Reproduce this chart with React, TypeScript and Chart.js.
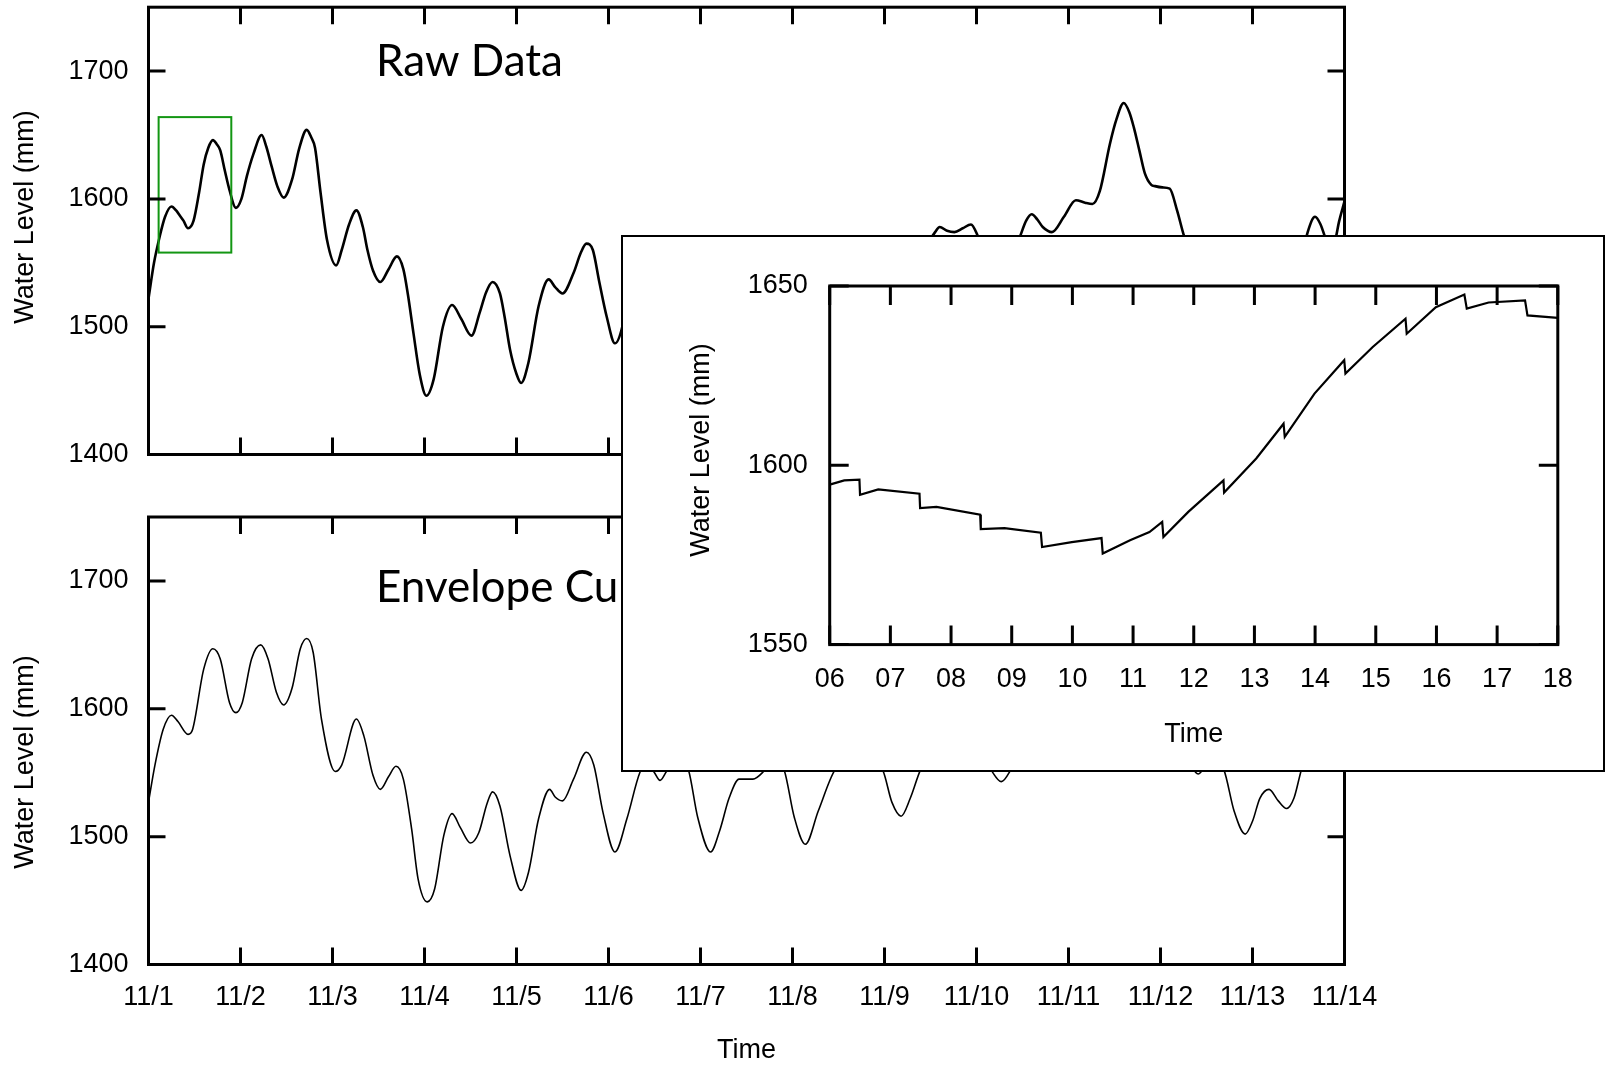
import React, { useEffect, useRef } from 'react';
import { Chart, registerables } from 'chart.js';

Chart.register(...registerables);

// ---------------- data ----------------
const xTickLabels = ['11/1', '11/2', '11/3', '11/4', '11/5', '11/6', '11/7', '11/8', '11/9', '11/10', '11/11', '11/12', '11/13', '11/14'];
const insetTickLabels = ['06', '07', '08', '09', '10', '11', '12', '13', '14', '15', '16', '17', '18'];

const rawDays = [
  0.00, 0.06, 0.12, 0.18, 0.25, 0.30, 0.34, 0.38, 0.43, 0.49, 0.55, 0.60, 0.65, 0.70, 0.74, 0.78, 0.83, 0.88, 0.95,
  1.01, 1.07, 1.14, 1.23, 1.28, 1.34, 1.40, 1.47, 1.56, 1.64, 1.72, 1.77, 1.81, 1.87, 1.94,
  2.04, 2.10, 2.18, 2.26, 2.33, 2.38, 2.44, 2.52, 2.61, 2.70, 2.77, 2.82, 2.88, 2.95,
  3.02, 3.10, 3.20, 3.30, 3.40, 3.51, 3.60, 3.67, 3.74, 3.82, 3.87, 3.93,
  4.00, 4.05, 4.13, 4.24, 4.35, 4.42, 4.50, 4.62, 4.70, 4.76, 4.83, 4.90, 4.98,
  5.07, 5.15, 5.22, 5.30, 5.40, 5.48, 5.56, 5.64, 5.72, 5.80, 5.87, 5.95,
  6.03, 6.11, 6.20, 6.31, 6.42, 6.50, 6.57, 6.64, 6.72, 6.80, 6.88, 6.95,
  7.05, 7.14, 7.22, 7.32, 7.46, 7.58, 7.70, 7.82, 7.90, 7.98,
  8.08, 8.18, 8.28, 8.39, 8.48, 8.55, 8.60, 8.68, 8.76, 8.85, 8.94,
  9.02, 9.10, 9.16, 9.27, 9.37, 9.47, 9.54, 9.60, 9.66, 9.72, 9.82, 9.95,
  10.08, 10.18, 10.26, 10.34, 10.45, 10.52, 10.60, 10.66, 10.71, 10.77, 10.83, 10.90, 10.94,
  11.02, 11.10, 11.18, 11.26, 11.34, 11.41, 11.50, 11.58, 11.65, 11.69, 11.78, 11.86, 11.92,
  12.00, 12.08, 12.18, 12.28, 12.37, 12.45, 12.53, 12.60, 12.68, 12.74, 12.79, 12.85, 12.90, 12.94, 13.00,
];
const rawLevels = [
  1522, 1550, 1570, 1586, 1594, 1591, 1587, 1583, 1577, 1583, 1605, 1627, 1640, 1646, 1643, 1638, 1622, 1607, 1593,
  1600, 1618, 1635, 1650, 1641, 1625, 1610, 1601, 1615, 1640, 1654, 1648, 1640, 1605, 1568,
  1548, 1560, 1580, 1591, 1578, 1560, 1544, 1535, 1545, 1555, 1545, 1525, 1495, 1462,
  1446, 1459, 1500, 1517, 1506, 1493, 1511, 1527, 1535, 1526, 1508, 1482,
  1463, 1456, 1472, 1516, 1537, 1531, 1526, 1542, 1558, 1565, 1560, 1535, 1508,
  1487, 1500, 1530, 1552, 1560, 1553, 1545, 1553, 1562, 1560, 1550, 1520,
  1495, 1488, 1500, 1530, 1545, 1546, 1545, 1549, 1556, 1562, 1555, 1535,
  1505, 1494, 1505, 1530, 1552, 1562, 1565, 1562, 1560, 1552,
  1528, 1516, 1530, 1552, 1566, 1574, 1578, 1575, 1574, 1577, 1580,
  1570, 1556, 1550, 1543, 1552, 1570, 1583, 1588, 1584, 1578, 1574, 1586,
  1599, 1597, 1596, 1606, 1643, 1662, 1675, 1668, 1656, 1638, 1620, 1611, 1610,
  1609, 1608, 1591, 1570, 1556, 1550, 1558, 1562, 1557, 1552, 1525, 1506, 1502,
  1512, 1530, 1537, 1528, 1522, 1530, 1552, 1574, 1586, 1580, 1570, 1562, 1568, 1582, 1598,
];

const envDays = [
  0.00, 0.07, 0.16, 0.25, 0.32, 0.43, 0.48, 0.60, 0.70, 0.78, 0.88, 0.95,
  1.02, 1.12, 1.22, 1.30, 1.39, 1.47, 1.56, 1.65, 1.72, 1.79, 1.88,
  2.03, 2.10, 2.26, 2.34, 2.44, 2.52, 2.61, 2.69, 2.77, 2.86, 2.93,
  3.03, 3.11, 3.21, 3.30, 3.39, 3.50, 3.59, 3.68, 3.74, 3.82, 3.93,
  4.05, 4.13, 4.24, 4.36, 4.42, 4.50, 4.62, 4.76, 4.84, 4.94,
  5.07, 5.20, 5.34, 5.42, 5.50, 5.56, 5.63, 5.72, 5.80, 5.87, 5.97,
  6.11, 6.21, 6.31, 6.42, 6.57, 6.70, 6.80, 6.91,
  7.02, 7.14, 7.28, 7.46, 7.70, 7.98,
  8.08, 8.18, 8.28, 8.39, 8.60, 8.76, 8.94,
  9.05, 9.16, 9.27, 9.37, 9.60, 9.82,
  10.08, 10.26, 10.60, 10.83,
  11.10, 11.26, 11.34, 11.41, 11.55, 11.69, 11.80, 11.92,
  12.00, 12.08, 12.18, 12.28, 12.37, 12.45, 12.53, 12.68, 12.85, 13.00,
];
const envLevels = [
  1527, 1556, 1584, 1595, 1590, 1580, 1584, 1631, 1647, 1639, 1605, 1597,
  1605, 1639, 1650, 1639, 1613, 1603, 1616, 1647, 1655, 1644, 1592,
  1551, 1556, 1592, 1579, 1548, 1537, 1547, 1555, 1545, 1506, 1467,
  1449, 1459, 1501, 1518, 1507, 1495, 1503, 1526, 1535, 1524, 1485,
  1458, 1472, 1514, 1537, 1531, 1528, 1545, 1566, 1556, 1519,
  1488, 1514, 1550, 1558, 1550, 1544, 1551, 1560, 1558, 1552, 1515,
  1488, 1505, 1530, 1545, 1545, 1552, 1560, 1552,
  1515, 1494, 1520, 1552, 1564, 1552,
  1527, 1516, 1530, 1552, 1577, 1574, 1579,
  1566, 1552, 1543, 1552, 1588, 1574,
  1599, 1596, 1674, 1620,
  1608, 1570, 1555, 1549, 1561, 1552, 1520, 1502,
  1512, 1530, 1537, 1528, 1522, 1530, 1552, 1585, 1563, 1598,
];

const insetHours = [
  6.00, 6.24, 6.49, 6.50, 6.80, 7.48, 7.49, 7.76, 8.48, 8.49, 8.88, 9.48, 9.50, 9.99, 10.48, 10.50,
  10.95, 11.27, 11.48, 11.50, 11.91, 12.49, 12.50, 13.03, 13.48, 13.50, 13.99, 14.48, 14.50,
  14.95, 15.49, 15.51, 15.99, 16.46, 16.50, 16.86, 17.46, 17.50, 18.00,
];
const insetLevels = [
  1594.6, 1595.8, 1596.0, 1591.8, 1593.3, 1592.1, 1588.1, 1588.4, 1586.2, 1582.2, 1582.5, 1581.2, 1577.2, 1578.6, 1579.7, 1575.4,
  1579.1, 1581.4, 1584.2, 1580.0, 1587.0, 1595.8, 1592.4, 1601.9, 1611.6, 1607.9, 1620.0, 1629.3, 1625.6,
  1633.0, 1640.9, 1636.7, 1644.1, 1647.6, 1643.7, 1645.4, 1646.0, 1641.8, 1641.1,
];

const zoomBoxDays = [0.11, 0.9];
const zoomBoxLevels = [1558, 1664];

// ---------------- helpers ----------------
const FONT_FAMILY = '"Liberation Sans", Arial, sans-serif';
const TICK_FONT = { family: FONT_FAMILY, size: 27 };

const framePlugin: any = {
  id: 'frame',
  beforeDraw(chart: any, _a: any, opts: any) {
    if (opts.panel) {
      const { ctx, width, height } = chart;
      ctx.save();
      ctx.fillStyle = '#fff';
      ctx.fillRect(0, 0, width, height);
      ctx.lineWidth = opts.panel;
      ctx.strokeStyle = '#000';
      ctx.strokeRect(opts.panel / 2, opts.panel / 2, width - opts.panel, height - opts.panel);
      ctx.restore();
    }
  },
  afterDatasetsDraw(chart: any, _a: any, opts: any) {
    if (opts.box) {
      const { ctx, scales } = chart;
      const x0 = scales.x.getPixelForValue(opts.box.x0);
      const x1 = scales.x.getPixelForValue(opts.box.x1);
      const y0 = scales.y.getPixelForValue(opts.box.y0);
      const y1 = scales.y.getPixelForValue(opts.box.y1);
      ctx.save();
      ctx.strokeStyle = opts.box.color;
      ctx.lineWidth = 2;
      ctx.strokeRect(x0, y1, x1 - x0, y0 - y1);
      ctx.restore();
    }
  },
  afterDraw(chart: any, _a: any, opts: any) {
    const { ctx, chartArea: a, scales } = chart;
    const len = opts.tickLen;
    ctx.save();
    ctx.strokeStyle = '#000';
    ctx.lineWidth = opts.lineWidth;
    ctx.lineCap = 'butt';
    ctx.beginPath();
    scales.x.ticks.forEach((t: any) => {
      const px = scales.x.getPixelForValue(t.value);
      ctx.moveTo(px, a.top);
      ctx.lineTo(px, a.top + len);
      ctx.moveTo(px, a.bottom);
      ctx.lineTo(px, a.bottom - len);
    });
    scales.y.ticks.forEach((t: any) => {
      const py = scales.y.getPixelForValue(t.value);
      ctx.moveTo(a.left, py);
      ctx.lineTo(a.left + len, py);
      ctx.moveTo(a.right, py);
      ctx.lineTo(a.right - len, py);
    });
    ctx.stroke();
    ctx.lineJoin = 'miter';
    ctx.strokeRect(a.left, a.top, a.right - a.left, a.bottom - a.top);
    (opts.texts || []).forEach((t: any) => {
      ctx.save();
      ctx.fillStyle = '#000';
      ctx.font = t.font;
      ctx.textBaseline = 'middle';
      ctx.textAlign = t.align || 'center';
      ctx.translate(t.x, t.y);
      if (t.rotate) ctx.rotate((t.rotate * Math.PI) / 180);
      ctx.fillText(t.text, 0, 0);
      ctx.restore();
    });
    ctx.restore();
  },
};

function ChartCanvas({ left, top, width, height, config }: any) {
  const ref = useRef<HTMLCanvasElement | null>(null);
  useEffect(() => {
    const chart = new Chart(ref.current as HTMLCanvasElement, config());
    return () => chart.destroy();
  }, []);
  return (
    <canvas
      ref={ref}
      width={width}
      height={height}
      style={{ position: 'absolute', left, top, width, height }}
    />
  );
}

const PLOT_LEFT = 148.5;
const PLOT_RIGHT = 1344.5;

function noPad(s: any) {
  s.paddingTop = 0;
  s.paddingBottom = 0;
  s.paddingLeft = 0;
  s.paddingRight = 0;
}

function mainConfig(kind: 'raw' | 'env') {
  const isRaw = kind === 'raw';
  const days = isRaw ? rawDays : envDays;
  const levels = isRaw ? rawLevels : envLevels;
  return () => ({
    type: 'line',
    data: {
      datasets: [
        {
          data: days.map((d, i) => ({ x: d, y: levels[i] })),
          borderColor: '#000',
          borderWidth: isRaw ? 2.6 : 1.6,
          pointRadius: 0,
          cubicInterpolationMode: 'monotone',
          fill: false,
        },
      ],
    },
    options: {
      animation: false,
      responsive: false,
      events: [],
      layout: { padding: { top: isRaw ? 7.2 : 47, right: 1612 - PLOT_RIGHT, left: 0, bottom: 0 } },
      plugins: {
        legend: { display: false },
        tooltip: { enabled: false },
        frame: {
          lineWidth: 3,
          tickLen: 17,
          box: isRaw
            ? { x0: zoomBoxDays[0], x1: zoomBoxDays[1], y0: zoomBoxLevels[0], y1: zoomBoxLevels[1], color: '#139613' }
            : null,
          texts: [
            { text: 'Water Level (mm)', x: 25.7, y: isRaw ? 217 : 292, rotate: -90, font: `27px ${FONT_FAMILY}` },
            { text: isRaw ? 'Raw Data' : 'Envelope Curve', x: 376, y: isRaw ? 62 : 118, align: 'left', font: '44px Lato, "Open Sans", sans-serif' },
          ],
        },
      },
      scales: {
        x: {
          type: 'linear',
          min: 0,
          max: 13,
          ticks: {
            stepSize: 1,
            display: !isRaw,
            padding: 17,
            font: TICK_FONT,
            color: '#000',
            maxRotation: 0,
            autoSkip: false,
            callback: (v: number) => xTickLabels[v] ?? '',
          },
          grid: { display: false, drawTicks: false },
          border: { display: false },
          title: isRaw
            ? { display: false }
            : { display: true, text: 'Time', font: TICK_FONT, color: '#000', padding: { top: 0, bottom: 0 } },
          afterFit: (s: any) => {
            s.height = isRaw ? 15.5 : 102.5;
            noPad(s);
          },
        },
        y: {
          type: 'linear',
          min: 1400,
          max: 1750,
          ticks: {
            stepSize: 100,
            includeBounds: false,
            padding: 20,
            font: TICK_FONT,
            color: '#000',
            callback: (v: number) => String(v),
          },
          grid: { display: false, drawTicks: false },
          border: { display: false },
          afterFit: (s: any) => {
            s.width = PLOT_LEFT;
            noPad(s);
          },
        },
      },
    },
    plugins: [framePlugin],
  });
}

const insetConfig = () => ({
  type: 'line',
  data: {
    datasets: [
      {
        data: insetHours.map((h, i) => ({ x: h, y: insetLevels[i] })),
        borderColor: '#000',
        borderWidth: 2.2,
        pointRadius: 0,
        tension: 0,
        fill: false,
      },
    ],
  },
  options: {
    animation: false,
    responsive: false,
    events: [],
    layout: { padding: { top: 51, right: 47.2, left: 0, bottom: 0 } },
    plugins: {
      legend: { display: false },
      tooltip: { enabled: false },
      frame: {
        panel: 2,
        lineWidth: 3,
        tickLen: 19,
        box: null,
        texts: [{ text: 'Water Level (mm)', x: 81, y: 215, rotate: -90, font: `27px ${FONT_FAMILY}` }],
      },
    },
    scales: {
      x: {
        type: 'linear',
        min: 6,
        max: 18,
        ticks: {
          stepSize: 1,
          padding: 18.7,
          font: TICK_FONT,
          color: '#000',
          maxRotation: 0,
          autoSkip: false,
          callback: (v: number) => insetTickLabels[v - 6] ?? '',
        },
        grid: { display: false, drawTicks: false },
        border: { display: false },
        title: { display: true, text: 'Time', font: TICK_FONT, color: '#000', padding: { top: 0, bottom: 21.4 } },
        afterFit: (s: any) => {
          s.height = 127.4;
          noPad(s);
        },
      },
      y: {
        type: 'linear',
        min: 1550,
        max: 1650,
        ticks: {
          stepSize: 50,
          padding: 22,
          font: TICK_FONT,
          color: '#000',
          callback: (v: number) => String(v),
        },
        grid: { display: false, drawTicks: false },
        border: { display: false },
        afterFit: (s: any) => {
          s.width = 208.7;
          noPad(s);
        },
      },
    },
  },
  plugins: [framePlugin],
});

export default function App() {
  return (
    <div style={{ position: 'absolute', left: 0, top: 0, width: 1612, height: 1067, background: '#fff', overflow: 'hidden' }}>
      <ChartCanvas left={0} top={0} width={1612} height={470} config={mainConfig('raw')} />
      <ChartCanvas left={0} top={470} width={1612} height={597} config={mainConfig('env')} />
      <ChartCanvas left={621} top={235} width={984} height={537} config={insetConfig} />
    </div>
  );
}
